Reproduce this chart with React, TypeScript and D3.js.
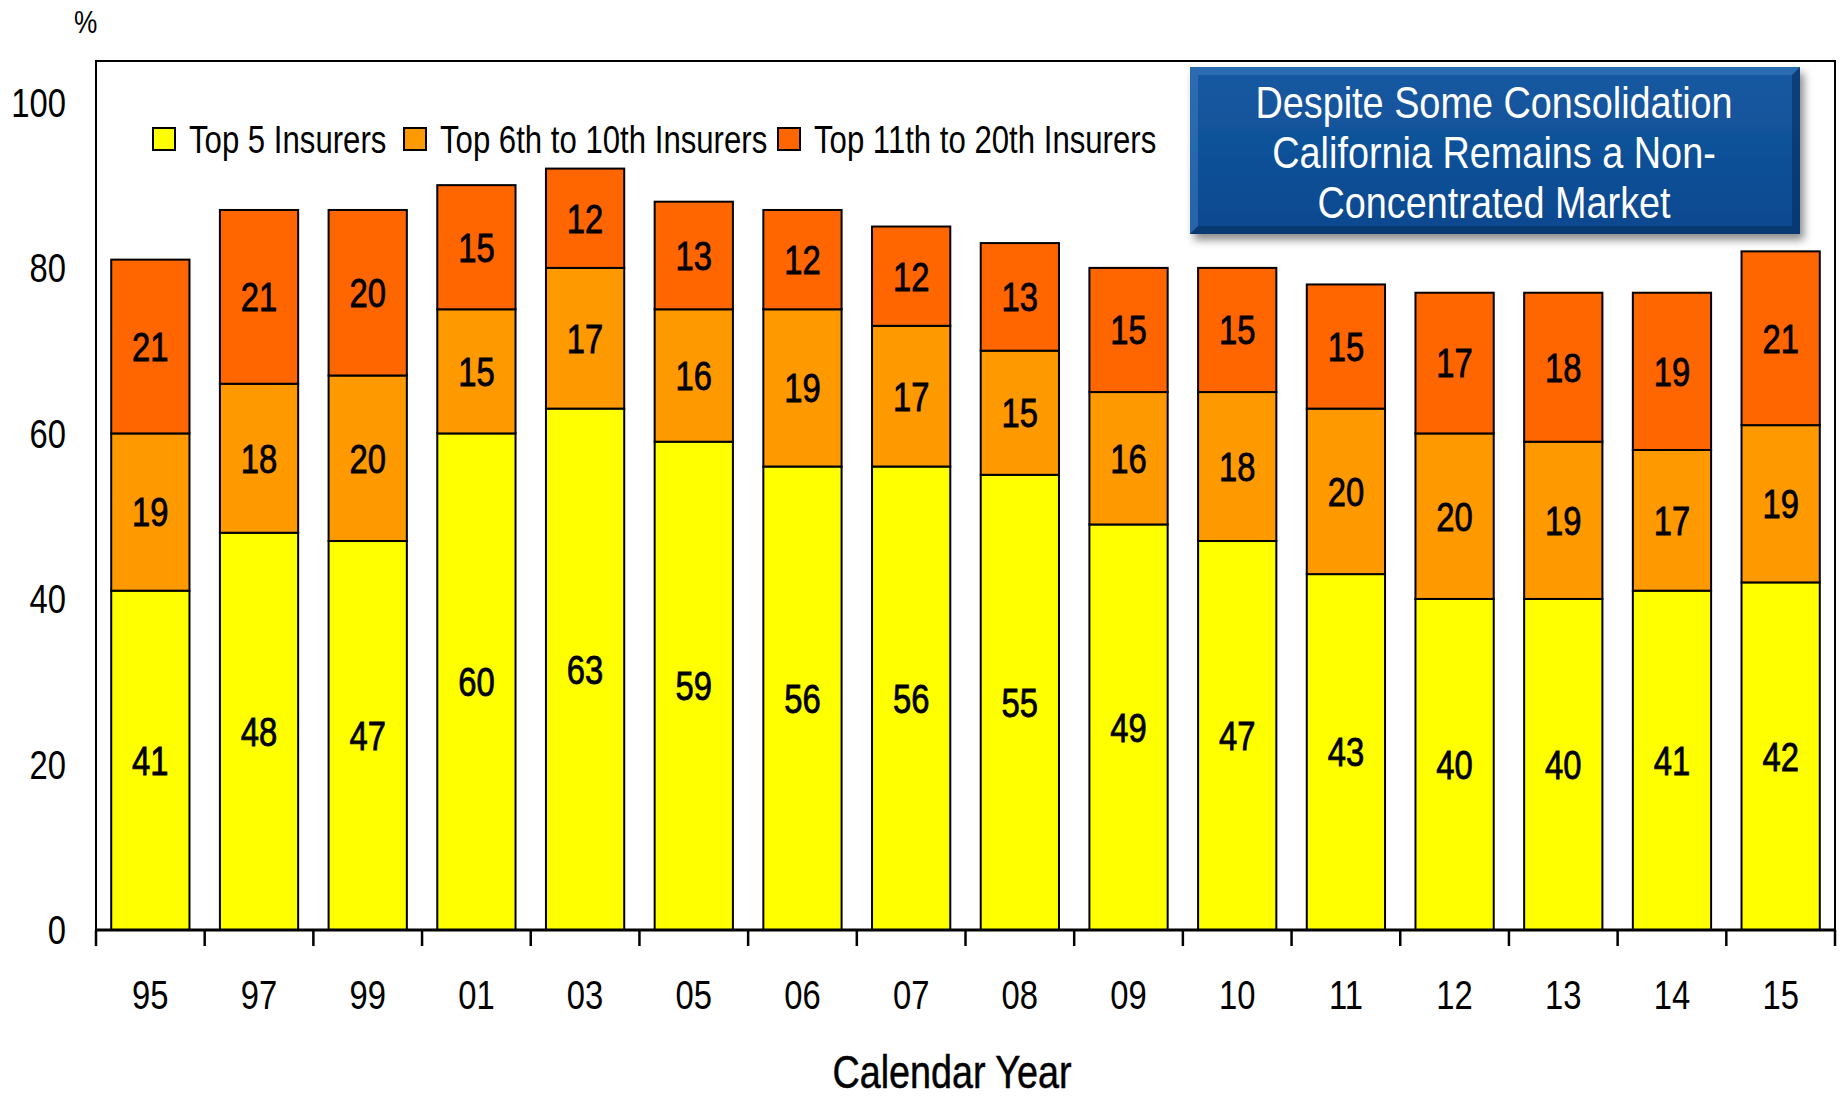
import * as d3 from 'd3'
import type { ReactNode } from 'react'

const years = ['95', '97', '99', '01', '03', '05', '06', '07', '08', '09', '10', '11', '12', '13', '14', '15']
const top5 = [41, 48, 47, 60, 63, 59, 56, 56, 55, 49, 47, 43, 40, 40, 41, 42]
const top6to10 = [19, 18, 20, 15, 17, 16, 19, 17, 15, 16, 18, 20, 20, 19, 17, 19]
const top11to20 = [21, 21, 20, 15, 12, 13, 12, 12, 13, 15, 15, 15, 17, 18, 19, 21]
const seriesNames = ['Top 5 Insurers', 'Top 6th to 10th Insurers', 'Top 11th to 20th Insurers']
const seriesColors = ['#FFFF00', '#FF9900', '#FF6600']
const yTicks = [0, 20, 40, 60, 80, 100]
const titleLines = ['Despite Some Consolidation', 'California Remains a Non-', 'Concentrated Market']

const W = 1843
const H = 1097
// Arial Narrow look: Liberation Sans squeezed horizontally
const FONT = '"Liberation Sans", Arial, sans-serif'
const NARROW = 0.82

const left = 96
const right = 1835
const top = 61
const bottom = 930

function T({
  x,
  y,
  size,
  anchor = 'start',
  fill = '#000',
  dy = '0',
  sx = NARROW,
  stroke,
  children,
}: {
  x: number
  y: number
  size: number
  anchor?: 'start' | 'middle' | 'end'
  fill?: string
  dy?: string
  sx?: number
  stroke?: number
  children: ReactNode
}) {
  return (
    <text
      transform={`translate(${x},${y}) scale(${sx},1)`}
      dy={dy}
      textAnchor={anchor}
      fontFamily={FONT}
      fontSize={size}
      fill={fill}
      stroke={stroke ? fill : undefined}
      strokeWidth={stroke}
    >
      {children}
    </text>
  )
}

export default function App() {
  const rows = years.map((year, i) => ({
    year,
    [seriesNames[0]]: top5[i],
    [seriesNames[1]]: top6to10[i],
    [seriesNames[2]]: top11to20[i],
  }))
  const stacked = d3.stack<any>().keys(seriesNames)(rows)

  const x = d3.scaleBand().domain(years).range([left, right]).paddingInner(0.28).paddingOuter(0.14)
  const y = d3.scaleLinear().domain([0, 105]).range([bottom, top])
  const step = x.step()
  const boundaries = d3.range(years.length + 1).map(i => left + i * step)

  const legendX = [153, 404, 778]

  return (
    <svg width={W} height={H} style={{ position: 'absolute', left: 0, top: 0, background: '#fff' }}>
      <defs>
        <linearGradient id="boxFill" x1="0" y1="0" x2="0" y2="1">
          <stop offset="0" stopColor="#165aa2" />
          <stop offset="1" stopColor="#0a488f" />
        </linearGradient>
        <filter id="shadow" x="-10%" y="-10%" width="130%" height="140%">
          <feDropShadow dx="4" dy="6" stdDeviation="4" floodColor="#000" floodOpacity="0.45" />
        </filter>
      </defs>

      {/* frame */}
      <path d={`M${left},${bottom}V${top}H${right}V${bottom}`} fill="none" stroke="#000" strokeWidth={2} />

      {/* bars */}
      {stacked.map((layer, si) => (
        <g key={layer.key}>
          {layer.map((d, i) => (
            <rect
              key={i}
              x={x(years[i])}
              y={y(d[1])}
              width={x.bandwidth()}
              height={y(d[0]) - y(d[1])}
              fill={seriesColors[si]}
              stroke="#000"
              strokeWidth={2}
            />
          ))}
        </g>
      ))}

      {/* value labels */}
      {stacked.map(layer => (
        <g key={'l' + layer.key}>
          {layer.map((d, i) => (
            <T
              key={i}
              x={x(years[i])! + x.bandwidth() / 2}
              y={y((d[0] + d[1]) / 2)}
              dy="0.36em"
              anchor="middle"
              size={40}
              stroke={0.8}
            >
              {d[1] - d[0]}
            </T>
          ))}
        </g>
      ))}

      {/* x axis */}
      <line x1={left} x2={right} y1={bottom} y2={bottom} stroke="#000" strokeWidth={3} />
      {boundaries.map((bx, i) => (
        <line key={i} x1={bx} x2={bx} y1={bottom} y2={bottom + 16} stroke="#000" strokeWidth={2.5} />
      ))}
      {years.map(yr => (
        <T key={yr} x={x(yr)! + x.bandwidth() / 2} y={1009} anchor="middle" size={40}>
          {yr}
        </T>
      ))}
      <T x={952} y={1088} anchor="middle" size={46} stroke={0.5}>
        Calendar Year
      </T>

      {/* y axis labels */}
      {yTicks.map(t => (
        <T key={t} x={66} y={y(t)} dy="0.36em" anchor="end" size={40}>
          {t}
        </T>
      ))}
      <T x={74} y={33} size={32}>
        %
      </T>

      {/* legend */}
      {seriesNames.map((name, i) => (
        <g key={name} transform={`translate(${legendX[i]},139)`}>
          <rect x={0} y={-11} width={22} height={22} fill={seriesColors[i]} stroke="#000" strokeWidth={2} />
          <T x={36} y={0} dy="0.36em" size={38}>
            {name}
          </T>
        </g>
      ))}

      {/* title box */}
      <g filter="url(#shadow)">
        <rect x={1190} y={67} width={610} height={167} fill="url(#boxFill)" />
      </g>
      <path d="M1190,67H1800L1792,75H1198V226L1190,234Z" fill="#3d7bc0" opacity={0.55} />
      <path d="M1800,67V234H1190L1198,226H1792V75Z" fill="#062f60" opacity={0.6} />
      {titleLines.map((line, i) => (
        <T key={i} x={1494} y={102 + i * 50} dy="0.36em" anchor="middle" size={44} sx={0.86} fill="#fff">
          {line}
        </T>
      ))}
    </svg>
  )
}
